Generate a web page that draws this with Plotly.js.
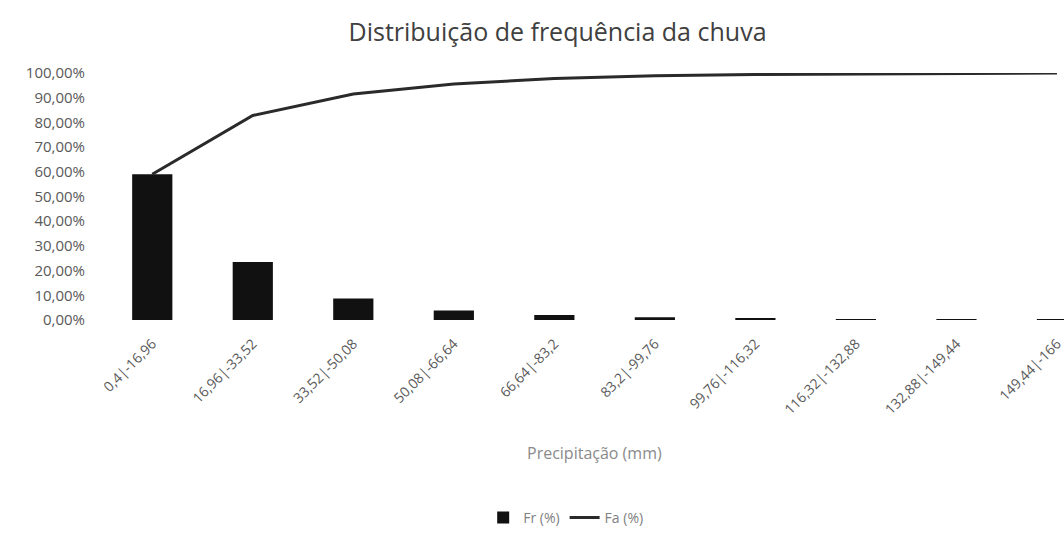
<!DOCTYPE html>
<html>
<head>
<meta charset="utf-8">
<script src="https://cdn.plot.ly/plotly-3.0.1.min.js"></script>
<style>html,body{margin:0;padding:0;background:#fff;}#chart{width:1064px;height:534px;}</style>
</head>
<body>
<div id="chart"></div>
<script>
const categories = ["0,4|-16,96", "16,96|-33,52", "33,52|-50,08", "50,08|-66,64", "66,64|-83,2",
  "83,2|-99,76", "99,76|-116,32", "116,32|-132,88", "132,88|-149,44", "149,44|-166"];
const freqRel = [0.590, 0.235, 0.087, 0.038, 0.020, 0.011, 0.006, 0.004, 0.003, 0.002];
const freqAcum = [0.590, 0.828, 0.915, 0.955, 0.978, 0.989, 0.994, 0.997, 0.999, 1.000];
const seriesNames = ["Fr (%)", "Fa (%)"];

const font = "Open Sans, Lato, sans-serif";
const traces = [
  {type: "bar", x: categories, y: freqRel, name: seriesNames[0],
   marker: {color: "#111111"}, width: 0.4},
  {type: "scatter", mode: "lines", x: categories, y: freqAcum, name: seriesNames[1],
   line: {color: "#2a2a2a", width: 3}}
];
const layout = {
  width: 1064, height: 534,
  margin: {l: 102, r: 0, t: 73, b: 213},
  paper_bgcolor: "#fff", plot_bgcolor: "#fff",
  separators: ", ",
  font: {family: font, color: "#595959"},
  title: {text: "Distribuição de frequência da chuva", font: {family: font, size: 25, color: "#404040"},
          x: 0.524, xref: "container", y: 0.94, yref: "container", yanchor: "middle", xanchor: "center"},
  xaxis: {type: "category", range: [-0.5, 9.07], tickangle: -45, showline: false, showgrid: false,
          zeroline: false, ticks: "", ticklabelstandoff: 12,
          tickfont: {size: 14, color: "#595959", family: font}},
  yaxis: {range: [0, 1], tickformat: ".2%", dtick: 0.1, showgrid: false, zeroline: false, showline: false,
          ticks: "", ticklabelstandoff: 16, tickfont: {size: 15, color: "#595959", family: font}},
  showlegend: true,
  legend: {orientation: "h", x: 0.482, xanchor: "center", y: -0.805, yanchor: "middle",
           font: {size: 14, color: "#808080", family: font}},
  annotations: [{text: "Precipitação (mm)", xref: "paper", yref: "paper", x: 0.512, y: -0.593,
                 showarrow: false, font: {size: 16, color: "#8a8a8a", family: font}}]
};
Plotly.newPlot("chart", traces, layout, {displayModeBar: false});
</script>
</body>
</html>
